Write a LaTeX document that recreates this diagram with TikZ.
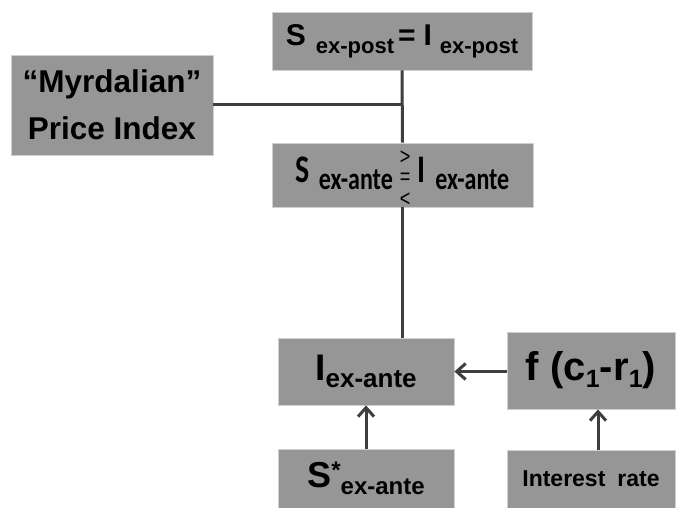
\documentclass[tikz,border=0pt]{standalone}
\usepackage{graphicx}
\usepackage{fontspec}
\setmainfont{Liberation Sans}
\newfontfamily\calibri{Carlito}
\usetikzlibrary{arrows.meta}

\definecolor{boxgray}{RGB}{150,150,150}
\definecolor{boxedge}{RGB}{208,208,208}
\definecolor{linkgray}{RGB}{62,62,62}

\newcommand{\fs}[1]{\fontsize{#1}{#1}\selectfont}
\newcommand{\lowsub}[3]{\raisebox{-#1pt}{\fs{#2}#3}}
\newcommand{\ltgt}{{\normalfont\fs{18}\rlap{\raisebox{13.5pt}{>}}\rlap{\raisebox{-2pt}{=}}\raisebox{-19pt}{<}}}

\tikzset{
  box/.style={draw=boxedge, fill=boxgray, line width=0.8pt, inner sep=0pt, align=center, font=\bfseries},
  link/.style={draw=linkgray, line width=3pt},
  arr/.style={link, -{Straight Barb[length=9pt,width=16pt]}}
}

\begin{document}
\begin{tikzpicture}[x=1pt,y=-1pt]
\useasboundingbox (0,0) rectangle (677,508);

% top row
\node[box, minimum width=260pt, minimum height=58pt] (post) at (402,41)
  {\fs{30}S\hspace{10pt}\lowsub{8}{22}{ex-post}\hspace{4pt}=\hspace{8pt}I\hspace{8pt}\lowsub{8}{22}{ex-post}};
\node[box, minimum width=202pt, minimum height=100pt, font=\bfseries\fontsize{31.5}{47}\selectfont] (myrd) at (112,105)
  {“Myrdalian”\\Price Index};
\node[box, minimum width=261pt, minimum height=64pt, text height=32pt, text depth=18pt] (ante) at (402.5,175)
  {\calibri\scalebox{1}[1.3]{\fs{30}S\hspace{9pt}\lowsub{6}{24}{ex-ante}\hspace{7pt}\ltgt\hspace{7pt}I\hspace{10pt}\lowsub{6}{24}{ex-ante}}};

% bottom part
\node[box, minimum width=176pt, minimum height=67pt] (iex) at (366,371.5)
  {\fs{37}I\lowsub{7}{26}{ex-ante}};
\node[box, minimum width=168pt, minimum height=77pt] (fcr) at (591,370.5)
  {\fs{40}f (c\lowsub{7}{25}{1}-r\lowsub{7}{25}{1})};
\node[box, minimum width=176pt, minimum height=59pt] (sstar) at (366,478.5)
  {\fs{36}S\raisebox{9pt}{\fs{24}*}\lowsub{7}{24}{ex-ante}};
\node[box, minimum width=168pt, minimum height=58pt] (rate) at (591,479)
  {\fs{23}Interest\hspace{12pt}rate};

\coordinate (join) at (myrd.east -| post.south);
\draw[link] (post.south) -- (ante.north);
\draw[link] (myrd.east) -- (join);
\draw[link] (ante.south) -- (ante.south |- iex.north);

\draw[arr] (fcr.west |- iex.east) -- (iex.east);
\draw[arr] (sstar.north) -- (iex.south);
\draw[arr] ([xshift=7pt]rate.north) -- ([xshift=7pt]fcr.south);
\end{tikzpicture}
\end{document}
